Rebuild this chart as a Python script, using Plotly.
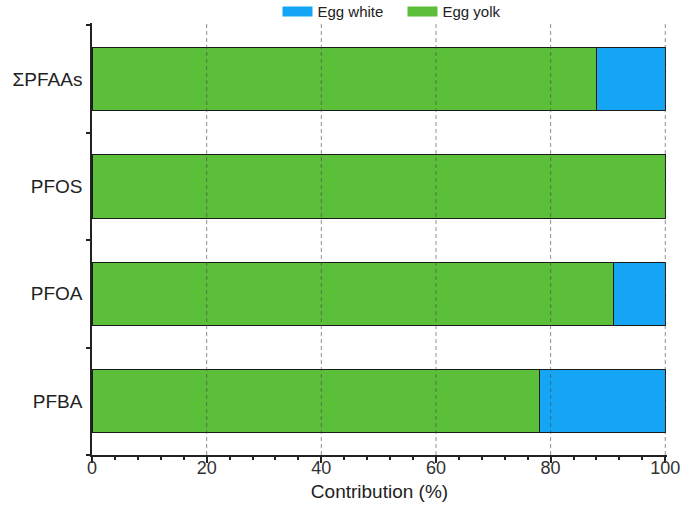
import plotly.graph_objects as go

categories = ["PFBA", "PFOA", "PFOS", "ΣPFAAs"]
egg_yolk = [78, 91, 100, 88]
egg_white = [22, 9, 0, 12]
x_ticks = [0, 20, 40, 60, 80, 100]

GREEN = "#5CBF3A"
BLUE = "#14A6F5"
FONT = "Liberation Sans, Arial, sans-serif"

fig = go.Figure()
fig.add_trace(go.Bar(
    y=categories, x=egg_yolk, orientation="h", name="Egg yolk", showlegend=False,
    marker=dict(color=GREEN, line=dict(color="#1a1a1a", width=1)), width=0.59,
))
fig.add_trace(go.Bar(
    y=categories, x=egg_white, orientation="h", name="Egg white", showlegend=False,
    marker=dict(color=BLUE, line=dict(color="#1a1a1a", width=1)), width=0.59,
))
# legend entries (wide colour swatches)
for name, col in [("Egg white", BLUE), ("Egg yolk", GREEN)]:
    fig.add_trace(go.Scatter(x=[None], y=[None], mode="lines", name=name,
                             line=dict(color=col, width=15)))

# dashed grid drawn above bars, at the axis tick values
for v in x_ticks[1:]:
    fig.add_shape(type="line", xref="x", yref="paper", x0=v, x1=v, y0=0, y1=1,
                  line=dict(color="rgba(70,70,70,0.75)", width=0.8, dash="4px,3px"), layer="above")

fig.update_layout(
    barmode="stack",
    width=683, height=513,
    margin=dict(l=92, r=16, t=23, b=58, autoexpand=False),
    plot_bgcolor="white", paper_bgcolor="white",
    font=dict(family=FONT, size=18, color="#222"),
    showlegend=True,
    legend=dict(orientation="h", x=0.54, xanchor="center", y=1.026, yanchor="middle",
                traceorder="normal", font=dict(size=15, color="#222"),
                itemwidth=30, entrywidth=80, entrywidthmode="pixels",
                tracegroupgap=0, bgcolor="rgba(0,0,0,0)"),
)
fig.update_xaxes(
    range=[0, 100.3], tickvals=x_ticks, showgrid=False, zeroline=False,
    showline=True, linecolor="#222", linewidth=1.5, automargin=False,
    ticks="outside", ticklen=6, tickcolor="#222", tickwidth=1.5,
    minor=dict(dtick=4, ticks="outside", ticklen=3, tickcolor="#222", showgrid=False),
    title=dict(text="Contribution (%)", font=dict(size=19), standoff=7),
    tickfont=dict(size=18, color="#333"), ticklabelstandoff=-10,
)
fig.update_yaxes(
    range=[-0.5, 3.52], showgrid=False, zeroline=False, automargin=False,
    showline=True, linecolor="#222", linewidth=1.5,
    ticks="outside", tickson="boundaries", ticklen=4, tickcolor="#222", tickwidth=1.5,
    tickfont=dict(size=19, color="#222"), ticklabelstandoff=4,
)

fig.write_html("out.html", post_script="document.body.style.margin='0';",
               config={"displayModeBar": False})
